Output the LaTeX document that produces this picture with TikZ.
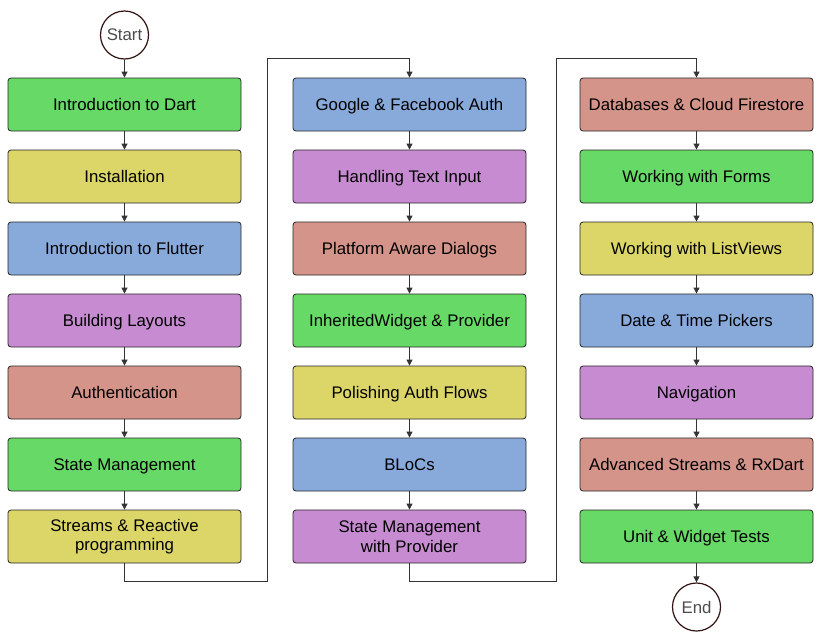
\documentclass[tikz,border=0pt]{standalone}
\usepackage{fontspec}
\setmainfont{Liberation Sans}
\usetikzlibrary{arrows.meta}
\definecolor{dartgreen}{RGB}{102,217,102}
\definecolor{dartyellow}{RGB}{220,214,104}
\definecolor{dartblue}{RGB}{136,170,219}
\definecolor{dartpurple}{RGB}{199,139,209}
\definecolor{dartred}{RGB}{212,148,138}
\definecolor{ringcol}{RGB}{50,20,20}
\tikzset{
  card/.style={draw=black!85, line width=0.8pt, rounded corners=3pt, minimum width=233pt,
    minimum height=53pt, align=center, font=\fontsize{16.8}{19.5}\selectfont, inner sep=0pt},
  topic/.style={card, text height=12pt, text depth=0pt},
  topicpair/.style={card},
  ends/.style={circle, draw=ringcol, line width=1.2pt, fill=white, minimum size=48pt,
    inner sep=0pt, text=black!70, font=\fontsize{16.8}{19.5}\selectfont},
  link/.style={draw=black!80, line width=0.8pt, -{Triangle[length=6pt,width=6pt]}}
}
\begin{document}
\begin{tikzpicture}[x=1pt,y=-1pt]
				\useasboundingbox (0,0) rectangle (822,640);
				
				\node[ends] (start) at (124.5,35) {Start};
				
				\node[topic,fill=dartgreen] (a1) at (124.5,104.5) {Introduction to Dart};
				\node[topic,fill=dartyellow] (a2) at (124.5,176.5) {Installation};
				\node[topic,fill=dartblue] (a3) at (124.5,248.5) {Introduction to Flutter};
				\node[topic,fill=dartpurple] (a4) at (124.5,320.5) {Building Layouts};
				\node[topic,fill=dartred] (a5) at (124.5,392.5) {Authentication};
				\node[topic,fill=dartgreen] (a6) at (124.5,464.5) {State Management};
				\node[topicpair,fill=dartyellow] (a7) at (124.5,536.5) {Streams \& Reactive\\programming};
				
				\node[topic,fill=dartblue] (b1) at (409.5,104.5) {Google \& Facebook Auth};
				\node[topic,fill=dartpurple] (b2) at (409.5,176.5) {Handling Text Input};
				\node[topic,fill=dartred] (b3) at (409.5,248.5) {Platform Aware Dialogs};
				\node[topic,fill=dartgreen] (b4) at (409.5,320.5) {InheritedWidget \& Provider};
				\node[topic,fill=dartyellow] (b5) at (409.5,392.5) {Polishing Auth Flows};
				\node[topic,fill=dartblue] (b6) at (409.5,464.5) {BLoCs};
				\node[topicpair,fill=dartpurple] (b7) at (409.5,536.5) {State Management\\with Provider};
				
				\node[topic,fill=dartred] (c1) at (696.5,104.5) {Databases \& Cloud Firestore};
				\node[topic,fill=dartgreen] (c2) at (696.5,176.5) {Working with Forms};
				\node[topic,fill=dartyellow] (c3) at (696.5,248.5) {Working with ListViews};
				\node[topic,fill=dartblue] (c4) at (696.5,320.5) {Date \& Time Pickers};
				\node[topic,fill=dartpurple] (c5) at (696.5,392.5) {Navigation};
				\node[topic,fill=dartred] (c6) at (696.5,464.5) {Advanced Streams \& RxDart};
				\node[topic,fill=dartgreen] (c7) at (696.5,536.5) {Unit \& Widget Tests};
				
				\node[ends] (end) at (696.5,607) {End};
				
				\draw[link] (start) -- (a1);
				\draw[link] (a1) -- (a2);
				\draw[link] (a2) -- (a3);
				\draw[link] (a3) -- (a4);
				\draw[link] (a4) -- (a5);
				\draw[link] (a5) -- (a6);
				\draw[link] (a6) -- (a7);
				
				\coordinate (lowa) at (267,581);
				\coordinate (higha) at (267,58);
				\draw[link] (a7.south) |- (lowa) -- (higha) -| (b1.north);
				
				\draw[link] (b1) -- (b2);
				\draw[link] (b2) -- (b3);
				\draw[link] (b3) -- (b4);
				\draw[link] (b4) -- (b5);
				\draw[link] (b5) -- (b6);
				\draw[link] (b6) -- (b7);
				
				\coordinate (lowb) at (556,581);
				\coordinate (highb) at (556,58);
				\draw[link] (b7.south) |- (lowb) -- (highb) -| (c1.north);
				
				\draw[link] (c1) -- (c2);
				\draw[link] (c2) -- (c3);
				\draw[link] (c3) -- (c4);
				\draw[link] (c4) -- (c5);
				\draw[link] (c5) -- (c6);
				\draw[link] (c6) -- (c7);
				\draw[link] (c7) -- (end);
			\end{tikzpicture}
\end{document}
